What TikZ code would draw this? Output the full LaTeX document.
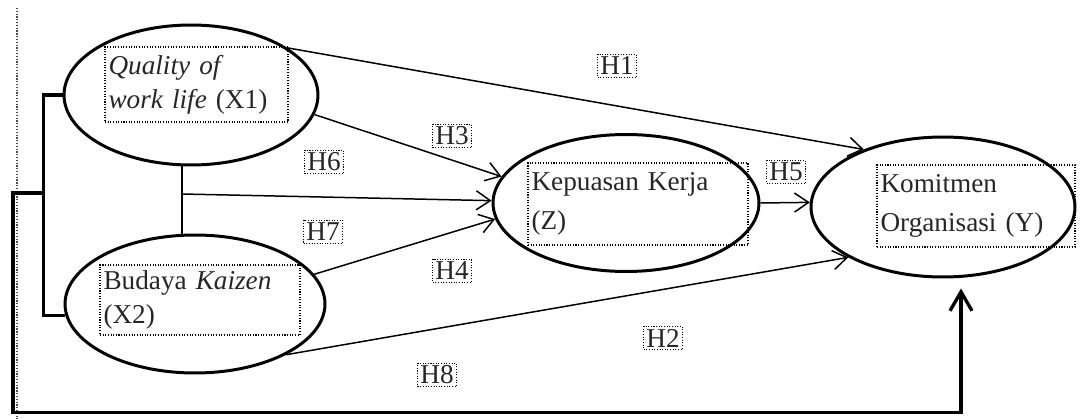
\documentclass[tikz,border=0pt]{standalone}
\usepackage{fontspec}
\setmainfont{Liberation Serif}
\usetikzlibrary{arrows.meta,shapes.geometric,calc}
\begin{document}
\begin{tikzpicture}[x=0.02cm,y=0.02cm,
  oval/.style={draw, ellipse, line width=1.7pt, inner sep=0pt},
  tbox/.style={draw, line width=0.6pt, dash pattern=on 0.6pt off 0.9pt, align=left, inner sep=2pt, font=\fontsize{15.5}{19.5}\selectfont, text=black!85},
  hlab/.style={draw, line width=0.6pt, dash pattern=on 0.6pt off 0.9pt, inner sep=1.5pt, font=\fontsize{15.5}{19}\selectfont, text=black!85},
  arr/.style={line width=0.85pt, -{Straight Barb[length=2.8mm,width=3.8mm]}},
  thk/.style={line width=1.9pt},
]
\useasboundingbox (0,0) rectangle (1080,-419);
% page margin guide
\draw[line width=0.7pt, dash pattern=on 0.7pt off 0.9pt, black!70] (17,-8) -- (17,-419);

% ellipses
\node[oval, minimum width=5.08cm, minimum height=2.8cm] (x1) at (191,-95) {};
\node[oval, minimum width=5.2cm, minimum height=2.76cm] (x2) at (195,-304) {};
\node[oval, minimum width=5.32cm, minimum height=2.74cm] (z) at (626,-203) {};
\node[oval, minimum width=5.28cm, minimum height=2.8cm] (y) at (943,-207) {};

% text boxes
\node[tbox, text width=3.52cm, minimum height=1.5cm] (tx1) at (196.5,-84.5) {\textit{Quality of}\\\textit{work life} (X1)};
\node[tbox, text width=3.86cm, minimum height=1.4cm] (tx2) at (200,-300) {Budaya \textit{Kaizen}\\(X2)};
\node[tbox, text width=4.26cm, minimum height=1.64cm, font=\fontsize{15.5}{22}\selectfont] (tz) at (638,-204) {Kepuasan Kerja\\(Z)};
\node[tbox, text width=3.82cm, minimum height=1.64cm, font=\fontsize{15.5}{22}\selectfont] (ty) at (976,-206) {Komitmen\\Organisasi (Y)};

% hypothesis labels
\node[hlab] (h1) at (617,-66) {H1};
\node[hlab] (h3) at (452,-136) {H3};
\node[hlab] (h6) at (324,-162) {H6};
\node[hlab] (h7) at (323,-232) {H7};
\node[hlab] (h4) at (452,-271) {H4};
\node[hlab] (h2) at (663,-338) {H2};
\node[hlab] (h8) at (437,-375) {H8};
\node[hlab] (h5) at (786,-172) {H5};

% connectors
\draw[arr] (x1.26.6) -- (y.144);
\draw[arr] (x1.-9) -- (z.168);
\coordinate (mid) at (182,-194);
\draw[line width=0.85pt] (mid |- x1.south) -- (mid |- x2.north);
\draw[arr] (mid) -- (z.179);
\draw[arr] (x2.14) -- (z.187);
\draw[arr] (x2.-29) -- (y.208.7);
\draw[arr] (z.east) -- (y.178);

% bracket and moderating path
\draw[thk] (x1.west) -- ++(-19,0) coordinate (bt) |- (x2.185);
\coordinate (bm) at (45,-193);
\coordinate (ytip) at ($(y.south)+(18,-10)$);
\draw[thk, -{Straight Barb[length=3.8mm,width=4.4mm]}] (bm) -- ++(-32,0) |- ($(ytip)+(0,-124)$) -- (ytip);
\end{tikzpicture}
\end{document}
